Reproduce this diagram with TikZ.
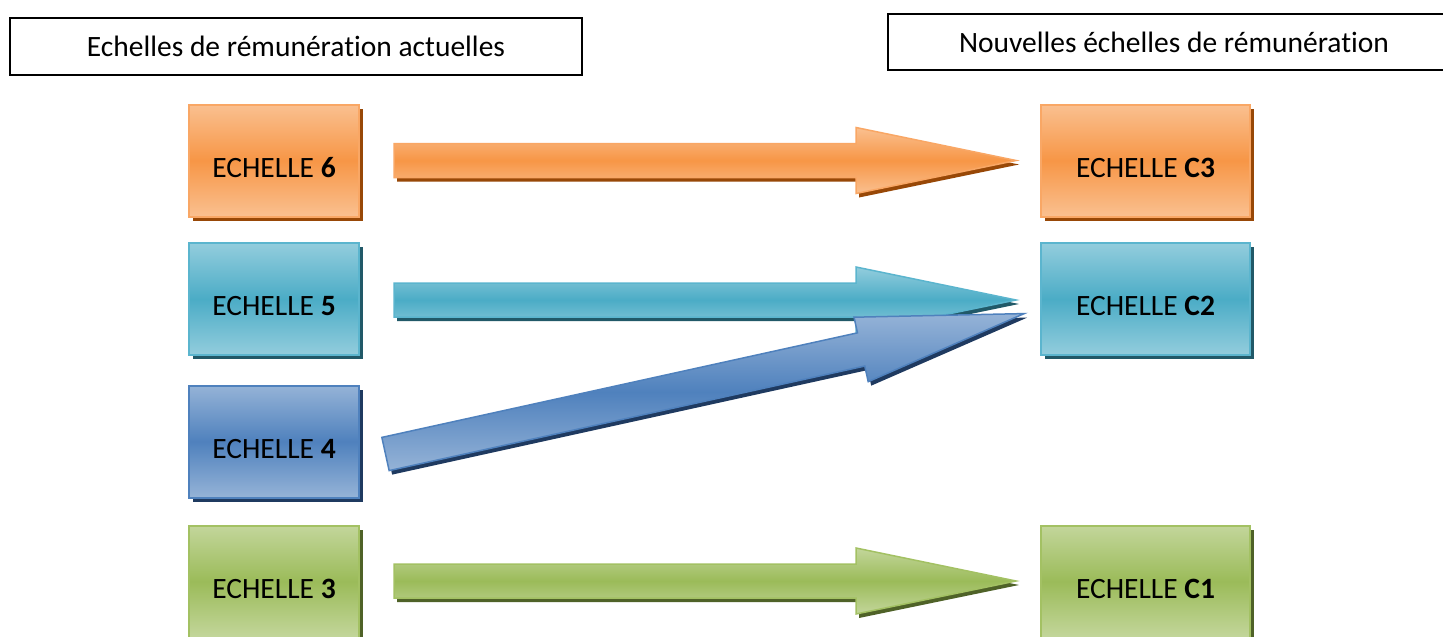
\documentclass[tikz,border=0pt]{standalone}
\usepackage{fontspec}
\setmainfont{Carlito}[RawFeature={-liga}]
\usetikzlibrary{shadows,calc}
\definecolor{oLight}{HTML}{FAC090}
\definecolor{oMid}{HTML}{F79646}
\definecolor{oBorder}{HTML}{F9A765}
\definecolor{oShadow}{HTML}{984807}
\definecolor{tLight}{HTML}{93CDDD}
\definecolor{tMid}{HTML}{4BACC6}
\definecolor{tBorder}{HTML}{5BB5CE}
\definecolor{tShadow}{HTML}{215968}
\definecolor{bLight}{HTML}{95B3D7}
\definecolor{bMid}{HTML}{4F81BD}
\definecolor{bBorder}{HTML}{4F81BD}
\definecolor{bShadow}{HTML}{1F3A60}
\definecolor{gLight}{HTML}{C3D69B}
\definecolor{gMid}{HTML}{9BBB59}
\definecolor{gBorder}{HTML}{A3C163}
\definecolor{gShadow}{HTML}{4F6228}
\tikzset{
  hdr/.style={draw=black, line width=1.5pt, fill=white, font=\fontsize{29.5}{34}\selectfont, inner sep=0pt},
  ech/.style={line width=2pt, minimum height=112pt, inner sep=0pt, text height=33pt, text depth=0pt, font=\fontsize{29.5}{34}\selectfont},
  lbox/.style={ech, minimum width=170pt},
  rbox/.style={ech, minimum width=209pt},
  orangefill/.style={draw=oBorder, top color=oLight, bottom color=oLight, middle color=oMid},
  tealfill/.style={draw=tBorder, top color=tLight, bottom color=tLight, middle color=tMid},
  bluefill/.style={draw=bBorder, top color=bLight, bottom color=bLight, middle color=bMid},
  greenfill/.style={draw=gBorder, top color=gLight, bottom color=gLight, middle color=gMid},
  orangebox/.style={orangefill, drop shadow={shadow xshift=4pt, shadow yshift=-4pt, opacity=1, fill=oShadow}},
  tealbox/.style={tealfill, drop shadow={shadow xshift=4pt, shadow yshift=-4pt, opacity=1, fill=tShadow}},
  bluebox/.style={bluefill, drop shadow={shadow xshift=4pt, shadow yshift=-4pt, opacity=1, fill=bShadow}},
  greenbox/.style={greenfill, drop shadow={shadow xshift=4pt, shadow yshift=-4pt, opacity=1, fill=gShadow}},
  orangearrow/.style={orangefill, line width=1.5pt},
  tealarrow/.style={tealfill, line width=1.5pt},
  bluearrow/.style={bluefill, line width=1.5pt},
  greenarrow/.style={greenfill, line width=1.5pt},
  orangeshadow/.style={fill=oShadow},
  tealshadow/.style={fill=tShadow},
  blueshadow/.style={fill=bShadow},
  greenshadow/.style={fill=gShadow},
}
% #1 tail coordinate, #2 angle, #3 shaft length, #4 head length, #5 colour name
\newcommand\BlkArrow[5]{%
  \begin{scope}[shift={(#1)}, shift={(3,4)}, rotate=#2]
    \fill[#5shadow] (0,-17) -- (#3,-17) -- (#3,-33) -- ({#3+#4},0) -- (#3,33) -- (#3,17) -- (0,17) -- cycle;
  \end{scope}
  \begin{scope}[shift={(#1)}, rotate=#2]
    \draw[#5arrow, line join=miter] (0,-17) -- (#3,-17) -- (#3,-33) -- ({#3+#4},0) -- (#3,33) -- (#3,17) -- (0,17) -- cycle;
  \end{scope}}
\begin{document}
\begin{tikzpicture}[x=1pt,y=-1pt]
\useasboundingbox (0,0) rectangle (1443,637);
\fill[white] (0,0) rectangle (1443,637);
% headers
\node[hdr, minimum width=572pt, minimum height=57pt] (h1) at (296,46.5) {Echelles de rémunération actuelles};
\node[hdr, minimum width=572pt, minimum height=56pt] (h2) at (1174,42) {Nouvelles échelles de rémunération};
% left boxes
\node[lbox, orangebox] (l6) at (274,160.5) {ECHELLE \textbf{6}};
\node[lbox, tealbox]   (l5) at (274,299) {ECHELLE \textbf{5}};
\node[lbox, bluebox]   (l4) at (274,441.5) {ECHELLE \textbf{4}};
\node[lbox, greenbox]  (l3) at (274,581.5) {ECHELLE \textbf{3}};
% right boxes
\node[rbox, orangebox] (c3) at (1145.5,160.5) {ECHELLE \textbf{C3}};
\node[rbox, tealbox]   (c2) at (1145.5,299) {ECHELLE \textbf{C2}};
\node[rbox, greenbox]  (c1) at (1145.5,581.5) {ECHELLE \textbf{C1}};
% arrow tails
\coordinate (a6) at ($(l6.east)+(34,0)$);
\coordinate (a5) at ($(l5.east)+(34,1)$);
\coordinate (a4) at ($(l4.east)+(25.5,12.5)$);
\coordinate (a3) at ($(l3.east)+(34,-0.5)$);
\BlkArrow{a6}{0}{462}{160}{orange}
\BlkArrow{a5}{0}{462}{160}{teal}
\BlkArrow{a4}{12.4}{487}{167}{blue}
\BlkArrow{a3}{0}{462}{160}{green}
\end{tikzpicture}
\end{document}
